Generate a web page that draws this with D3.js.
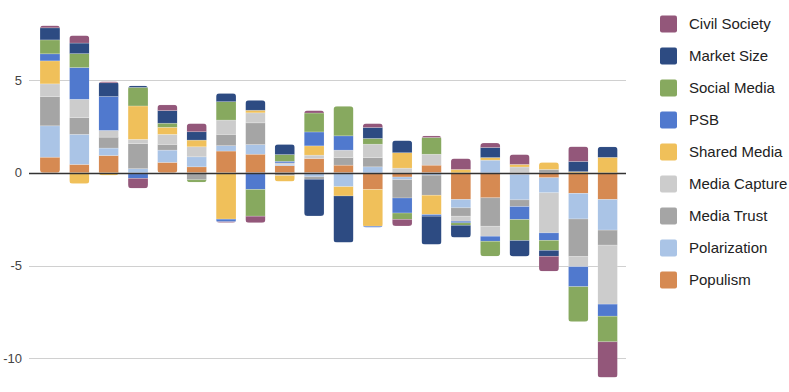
<!DOCTYPE html>
<html>
<head>
  <meta charset="utf-8">
  <script src="https://d3js.org/d3.v7.min.js"></script>
  <style>
    body { margin: 0; background: #fff; }
    svg { display: block; font-family: "Liberation Sans", Arial, sans-serif; }
  </style>
</head>
<body>
  <div id="chart"></div>
  <script>
    // one value per bar (20 bars)
    var populism     = [0.84, 0.45, 0.93, -0.06, 0.56, 0.32, 1.17, 1.00, 0.38, 0.77, 0.41, -0.90, -0.23, 0.41, -1.44, -1.35, -0.09, -0.27, -1.11, -1.44];
    var polarization = [1.69, 1.62, 0.40, 0.22, 0.66, 0.54, 0.29, 0.52, 0.08, -0.22, -0.75, 0.32, -0.14, -0.13, -0.45, 0.68, -1.37, -0.81, -1.38, -1.65];
    var mediaTrust   = [1.58, 0.90, 0.59, 1.35, 0.31, -0.38, 0.61, 1.17, -0.15, -0.13, 0.41, 0.50, -0.99, -1.08, -0.45, -1.53, -0.36, 0.18, -2.03, -0.81];
    var mediaCapture = [0.68, 0.99, 0.36, 0.23, 0.54, 0.54, 0.77, 0.54, 0.07, 0.18, 0.40, 0.72, 0.25, 0.59, -0.27, -0.54, 0.31, -2.16, -0.54, -3.18];
    var sharedMedia  = [1.24, -0.59, -0.14, 1.80, 0.38, 0.36, -2.50, 0.14, -0.32, 0.50, -0.50, -1.98, 0.83, -1.04, 0.18, 0.14, 0.14, 0.38, 0.06, 0.83];
    var psb          = [0.38, 1.71, 1.83, -0.24, 0, 0, -0.14, -0.90, 0.09, 0.75, 0.77, -0.07, -0.81, -0.09, -0.09, -0.27, -0.70, -0.40, -1.08, -0.65];
    var socialMedia  = [0.75, 0.75, 0, 1.00, 0.22, -0.13, 0.99, -1.44, 0.36, 1.02, 1.60, 0.31, -0.34, 0.90, -0.13, -0.81, -1.13, -0.54, -1.89, -1.38];
    var marketSize   = [0.65, 0.57, 0.74, 0.09, 0.68, 0.45, 0.45, 0.54, 0.55, -1.98, -2.51, 0.59, 0.66, -1.53, -0.66, 0.54, -0.86, -0.32, 0.55, 0.57];
    var civilSociety = [0.12, 0.41, 0.07, -0.54, 0.31, 0.45, -0.05, -0.36, 0, 0.14, 0, 0.22, -0.36, 0.09, 0.59, 0.25, 0.54, -0.81, 0.80, -1.92];

    // stacking order: first key sits next to zero
    var seriesNames = ["Populism", "Polarization", "Media Trust", "Media Capture", "Shared Media",
                       "PSB", "Social Media", "Market Size", "Civil Society"];
    var seriesValues = [populism, polarization, mediaTrust, mediaCapture, sharedMedia,
                        psb, socialMedia, marketSize, civilSociety];
    var colors = ["#d68a52", "#aac4e6", "#a5a5a5", "#cccccc", "#f0c05a",
                  "#5079ce", "#87a95f", "#2d4b82", "#93577a"];
    var yTicks = [-10, -5, 0, 5];

    var width = 789, height = 392;

    // rows for d3.stack
    var rows = populism.map(function(_, i) {
      var r = { idx: i };
      seriesNames.forEach(function(name, k) { r[name] = seriesValues[k][i]; });
      return r;
    });

    var svg = d3.select("#chart").append("svg")
      .attr("width", width)
      .attr("height", height);

    var x = d3.scaleBand()
      .domain(d3.range(rows.length))
      .range([35.3, 622.3])
      .paddingInner(0.32)
      .paddingOuter(0.16);

    var y = d3.scaleLinear()
      .domain([-11.2, 8.2])
      .range([380.6, 20.6]);

    var color = d3.scaleOrdinal().domain(seriesNames).range(colors);

    // gridlines + labels
    var grid = svg.append("g");
    grid.selectAll("line")
      .data(yTicks)
      .enter().append("line")
        .attr("x1", 29)
        .attr("x2", 626)
        .attr("y1", function(d) { return Math.round(y(d)) + 0.5; })
        .attr("y2", function(d) { return Math.round(y(d)) + 0.5; })
        .attr("stroke", "#d0d0d0")
        .attr("stroke-width", 1);

    grid.selectAll("text")
      .data(yTicks)
      .enter().append("text")
        .attr("x", 22)
        .attr("y", function(d) { return y(d); })
        .attr("dy", "0.35em")
        .attr("text-anchor", "end")
        .attr("font-size", 13)
        .attr("fill", "#444")
        .text(function(d) { return d; });

    var stack = d3.stack()
      .keys(seriesNames)
      .offset(d3.stackOffsetDiverging);
    var stacked = stack(rows);

    // rounded clip for each bar end to end
    var defs = svg.append("defs");
    rows.forEach(function(r, i) {
      var lo = d3.min(stacked, function(s) { return Math.min(s[i][0], s[i][1]); });
      var hi = d3.max(stacked, function(s) { return Math.max(s[i][0], s[i][1]); });
      defs.append("clipPath").attr("id", "clip" + i)
        .append("rect")
          .attr("x", x(i))
          .attr("width", x.bandwidth())
          .attr("y", y(hi))
          .attr("height", y(lo) - y(hi))
          .attr("rx", 3.5);
    });

    var layers = svg.append("g").selectAll("g")
      .data(stacked)
      .enter().append("g")
        .attr("fill", function(d) { return color(d.key); });

    layers.selectAll("rect")
      .data(function(d) { return d; })
      .enter().append("rect")
        .attr("clip-path", function(d, i) { return "url(#clip" + i + ")"; })
        .attr("x", function(d, i) { return x(i); })
        .attr("width", x.bandwidth())
        .attr("y", function(d) { return y(Math.max(d[0], d[1])); })
        .attr("height", function(d) { return Math.abs(y(d[0]) - y(d[1])); })
        .attr("stroke", "#fff")
        .attr("stroke-opacity", 0.35)
        .attr("stroke-width", 0.6);

    // zero line on top
    svg.append("line")
      .attr("x1", 29).attr("x2", 626)
      .attr("y1", Math.round(y(0)) + 0.5).attr("y2", Math.round(y(0)) + 0.5)
      .attr("stroke", "#333")
      .attr("stroke-width", 1.3);

    // legend, top entry is the last stacked series
    var legendItems = seriesNames.slice().reverse();
    var legend = svg.append("g").selectAll("g")
      .data(legendItems)
      .enter().append("g")
        .attr("transform", function(d, i) { return "translate(660," + (24 + i * 32) + ")"; });

    legend.append("rect")
      .attr("x", 0).attr("y", -8.5)
      .attr("width", 17).attr("height", 17)
      .attr("rx", 2)
      .attr("fill", function(d) { return color(d); });

    legend.append("text")
      .attr("x", 29)
      .attr("y", 0)
      .attr("dy", "0.35em")
      .attr("font-size", 15)
      .attr("fill", "#222")
      .text(function(d) { return d; });
  </script>
</body>
</html>
